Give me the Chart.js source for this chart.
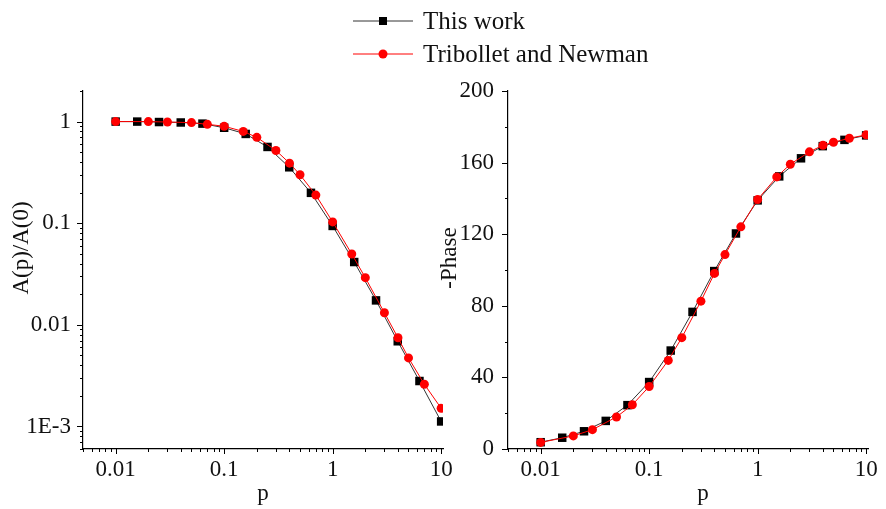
<!DOCTYPE html>
<html>
<head>
<meta charset="utf-8">
<script src="https://cdn.jsdelivr.net/npm/chart.js@4/dist/chart.umd.min.js"></script>
<style>
  html, body { margin: 0; padding: 0; background: #fff; }
  #wrap { position: relative; width: 886px; height: 509px; overflow: hidden; font-family: "Liberation Serif", serif; }
  canvas { position: absolute; top: 0; }
  #ampCanvas { left: 0; }
  #phaseCanvas { left: 430px; }
  .legend { position: absolute; left: 353px; top: 4px; }
  .row { display: flex; align-items: center; height: 33px; }
  .row svg { width: 60px; height: 14px; flex: none; }
  .row span { margin-left: 10px; font-size: 25px; color: #111; white-space: nowrap; }
</style>
</head>
<body>
<div id="wrap">
  <canvas id="ampCanvas" width="460" height="509"></canvas>
  <canvas id="phaseCanvas" width="456" height="509"></canvas>
  <div class="legend">
    <div class="row">
      <svg viewBox="0 0 60 14"><line x1="0" y1="7" x2="60" y2="7" stroke="#333" stroke-width="1"/><rect x="26" y="3" width="8" height="8" fill="#000"/></svg>
      <span>This work</span>
    </div>
    <div class="row">
      <svg viewBox="0 0 60 14"><line x1="0" y1="7" x2="60" y2="7" stroke="#ff0000" stroke-width="1"/><circle cx="30" cy="7" r="4.5" fill="#ff0000"/></svg>
      <span>Tribollet and Newman</span>
    </div>
  </div>
</div>
<script>
// Dimensionless frequency p for each series
const pThisWork = [0.01, 0.0158, 0.0251, 0.0398, 0.0631, 0.1, 0.158, 0.251, 0.398, 0.631, 1, 1.58, 2.51, 3.98, 6.31, 10];
const pTribollet = [0.01, 0.02, 0.03, 0.05, 0.07, 0.1, 0.15, 0.2, 0.3, 0.4, 0.5, 0.7, 1, 1.5, 2, 3, 4, 5, 7, 10];

// Normalised amplitude A(p)/A(0)
const ampThisWork = [1.0, 1.0, 0.99, 0.98, 0.955, 0.87, 0.756, 0.563, 0.355, 0.199, 0.094, 0.0415, 0.0174, 0.00689, 0.0028, 0.00112];
const ampTribollet = [1.0, 1.0, 0.99, 0.977, 0.94, 0.90, 0.80, 0.70, 0.52, 0.39, 0.30, 0.189, 0.103, 0.0498, 0.0291, 0.01315, 0.00746, 0.00473, 0.0026, 0.00151];

// -Phase in degrees
const phaseThisWork = [3.8, 6.3, 9.9, 15.7, 24.5, 37.4, 55.0, 76.6, 99.4, 120.4, 138.9, 152.3, 162.4, 169.2, 172.7, 175.2];
const phaseTribollet = [3.7, 7.3, 10.8, 17.9, 24.7, 34.9, 49.5, 62.2, 82.6, 98.1, 108.6, 124.1, 139.4, 152.0, 159.1, 166.0, 169.7, 171.4, 173.6, 175.5];

// Axis tick labels
const pTicks = [0.01, 0.1, 1, 10];
const ampTicks = [0.001, 0.01, 0.1, 1];
const phaseTicks = [0, 40, 80, 120, 160, 200];
const phaseMinorTicks = [20, 60, 100, 140, 180];

const FONT = '"Liberation Serif", serif';

function pairs(xs, ys) { return xs.map((x, i) => ({ x: x, y: ys[i] })); }

function logMinors(min, max) {
  const out = [];
  for (let e = Math.floor(Math.log10(min)); e <= Math.ceil(Math.log10(max)); e++) {
    for (let m = 2; m <= 9; m++) {
      const v = m * Math.pow(10, e);
      if (v >= min && v <= max) out.push(v);
    }
  }
  return out;
}

function fmtNum(v) {
  if (v === 0.001) return '1E-3';
  return String(v);
}

// Outward major/minor tick marks on the bottom and left axes
const tickMarks = {
  id: 'tickMarks',
  afterDraw(chart, args, opts) {
    const ctx = chart.ctx;
    ctx.save();
    ctx.strokeStyle = '#000';
    ctx.lineWidth = 1;
    const xs = chart.scales.x, ys = chart.scales.y;
    const drawX = (vals, len) => {
      vals.forEach(v => {
        const px = Math.round(xs.getPixelForValue(v)) + 0.5;
        ctx.beginPath(); ctx.moveTo(px, xs.top); ctx.lineTo(px, xs.top + len); ctx.stroke();
      });
    };
    const drawY = (vals, len) => {
      vals.forEach(v => {
        const py = Math.round(ys.getPixelForValue(v)) + 0.5;
        ctx.beginPath(); ctx.moveTo(ys.right, py); ctx.lineTo(ys.right - len, py); ctx.stroke();
      });
    };
    drawX(opts.xMajor, 5); drawX(opts.xMinor, 3);
    drawY(opts.yMajor, 6); drawY(opts.yMinor, 3);
    ctx.restore();
  }
};

// Axis captions
const captions = {
  id: 'captions',
  afterDraw(chart, args, opts) {
    const ctx = chart.ctx;
    ctx.save();
    ctx.fillStyle = '#111';
    ctx.font = '23px ' + FONT;
    opts.items.forEach(it => {
      ctx.save();
      ctx.translate(it.x, it.y);
      if (it.rotate) ctx.rotate(-Math.PI / 2);
      ctx.textAlign = 'center';
      ctx.textBaseline = it.rotate ? 'middle' : 'alphabetic';
      ctx.fillText(it.text, 0, 0);
      ctx.restore();
    });
    ctx.restore();
  }
};

function seriesSets(thisY, tnY) {
  return [
    {
      label: 'This work',
      data: pairs(pThisWork, thisY),
      borderColor: '#333',
      borderWidth: 1,
      backgroundColor: '#000',
      pointStyle: 'rect',
      pointRadius: 6,
      pointBorderWidth: 0,
      order: 1
    },
    {
      label: 'Tribollet and Newman',
      data: pairs(pTribollet, tnY),
      borderColor: '#ff0000',
      borderWidth: 1,
      backgroundColor: '#ff0000',
      pointStyle: 'circle',
      pointRadius: 4.5,
      pointBorderWidth: 0,
      order: 0
    }
  ];
}

function xScale(min, max) {
  return {
    type: 'logarithmic',
    min: min, max: max,
    afterBuildTicks: s => { s.ticks = pTicks.map(v => ({ value: v })); },
    afterFit: s => { s.height = 60; },
    grid: { display: true, drawOnChartArea: false, drawTicks: false },
    border: { display: true, color: '#000', width: 1.2 },
    ticks: {
      autoSkip: false, maxRotation: 0, padding: 7, color: '#111',
      font: { family: FONT, size: 23 },
      callback: v => fmtNum(v)
    }
  };
}

const baseOpts = {
  responsive: false,
  devicePixelRatio: 1,
  animation: false,
  plugins: { legend: { display: false }, tooltip: { enabled: false } }
};

const P_MIN = 0.005, P_MAX = 10.4;
const AMP_MIN = 0.0006, AMP_MAX = 2;

new Chart(document.getElementById('ampCanvas'), {
  type: 'line',
  data: { datasets: seriesSets(ampThisWork, ampTribollet) },
  options: Object.assign({}, baseOpts, {
    layout: { padding: { left: 0, top: 91, right: 17, bottom: 0 } },
    scales: {
      x: xScale(P_MIN, P_MAX),
      y: {
        type: 'logarithmic',
        min: AMP_MIN, max: AMP_MAX,
        afterBuildTicks: s => { s.ticks = ampTicks.map(v => ({ value: v })); },
        afterFit: s => { s.width = 83; },
        grid: { display: true, drawOnChartArea: false, drawTicks: false },
        border: { display: true, color: '#000', width: 1.2 },
        ticks: {
          autoSkip: false, padding: 12, color: '#111',
          font: { family: FONT, size: 23 },
          callback: v => fmtNum(v)
        }
      }
    },
    plugins: Object.assign({}, baseOpts.plugins, {
      tickMarks: {
        xMajor: pTicks, xMinor: logMinors(P_MIN, P_MAX),
        yMajor: ampTicks, yMinor: logMinors(AMP_MIN, AMP_MAX)
      },
      captions: {
        items: [
          { text: 'A(p)/A(0)', x: 22, y: 248, rotate: true },
          { text: 'p', x: 263, y: 500 }
        ]
      }
    })
  }),
  plugins: [tickMarks, captions]
});

new Chart(document.getElementById('phaseCanvas'), {
  type: 'line',
  data: { datasets: seriesSets(phaseThisWork, phaseTribollet) },
  options: Object.assign({}, baseOpts, {
    layout: { padding: { left: 0, top: 91, right: 18, bottom: 0 } },
    scales: {
      x: xScale(P_MIN, P_MAX),
      y: {
        type: 'linear',
        min: 0, max: 200,
        afterBuildTicks: s => { s.ticks = phaseTicks.map(v => ({ value: v })); },
        afterFit: s => { s.width = 78; },
        grid: { display: true, drawOnChartArea: false, drawTicks: false },
        border: { display: true, color: '#000', width: 1.2 },
        ticks: {
          autoSkip: false, padding: 14, color: '#111',
          font: { family: FONT, size: 23 }
        }
      }
    },
    plugins: Object.assign({}, baseOpts.plugins, {
      tickMarks: {
        xMajor: pTicks, xMinor: logMinors(P_MIN, P_MAX),
        yMajor: phaseTicks, yMinor: phaseMinorTicks
      },
      captions: {
        items: [
          { text: '-Phase', x: 20, y: 258, rotate: true },
          { text: 'p', x: 273, y: 500 }
        ]
      }
    })
  }),
  plugins: [tickMarks, captions]
});
</script>
</body>
</html>
